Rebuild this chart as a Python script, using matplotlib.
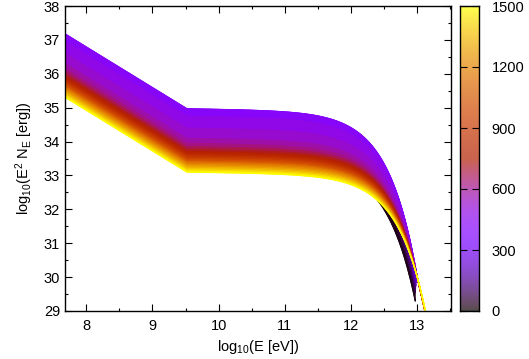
import numpy as np
import matplotlib
matplotlib.use("Agg")
import matplotlib.pyplot as plt
from matplotlib.patches import Polygon
from matplotlib.ticker import MultipleLocator

plt.rcParams['font.family'] = ['Liberation Sans', 'DejaVu Sans']
plt.rcParams['mathtext.default'] = 'regular'

# ---- data ----
# time of each curve (colour value)
times = [0, 50, 100, 150, 200, 250, 300, 350, 400, 450, 500, 550, 600, 650,
         700, 750, 800, 850, 900, 950, 1000, 1050, 1100, 1150, 1200, 1250,
         1300, 1350, 1400, 1450, 1500]
# log10(E^2 N_E) at the spectral break (log10 E = 9.52)
levels = [33.45, 33.70, 33.95, 34.20, 34.45, 34.65, 34.82, 34.93, 34.97,
          34.75, 34.40, 34.10, 33.95, 33.85, 33.77, 33.70, 33.64, 33.59,
          33.55, 33.51, 33.47, 33.43, 33.40, 33.37, 33.33, 33.29, 33.25,
          33.21, 33.17, 33.13, 33.10]
# log10 of the exponential cut-off energy
cutoffs = [12.000, 12.000, 11.990, 11.980, 11.970, 11.965, 11.960, 11.955,
           11.951, 11.971, 12.005, 12.036, 12.053, 12.064, 12.074, 12.082,
           12.089, 12.095, 12.100, 12.106, 12.111, 12.116, 12.120, 12.124,
           12.129, 12.135, 12.140, 12.146, 12.151, 12.157, 12.161]
# log10 of the highest energy of each curve
ends = [12.970, 12.970, 12.975, 12.980, 12.985, 12.990, 12.990, 12.995,
        13.000, 13.010, 13.020, 13.030, 13.040, 13.045, 13.050, 13.060,
        13.070, 13.080, 13.090, 13.100, 13.110, 13.120, 13.130, 13.140,
        13.150, 13.160, 13.170, 13.180, 13.190, 13.200, 13.200]
log_break = 9.52
slope_low = -1.2
slope_high = -0.03
cbar_ticks = [0, 300, 600, 900, 1200, 1500]


def spectrum(x, level, xc):
    seg = np.where(x < log_break, slope_low * (x - log_break),
                   slope_high * (x - log_break))
    return level + seg - np.log10(np.e) * 10.0 ** (x - xc)


W, H = 529, 359
fig = plt.figure(figsize=(W / 100, H / 100), dpi=100)
ax = fig.add_axes([65 / W, 1 - 311 / H, (451 - 65) / W, (311 - 6) / H])
cax = fig.add_axes([460 / W, 1 - 311 / H, 19 / W, (311 - 6) / H])

cmap = plt.get_cmap('gnuplot')
tmax = 1500.0

curves = []
for L, xc, xe in zip(levels, cutoffs, ends):
    x = np.append(np.linspace(7.5, xe, 800), xe)
    curves.append((x, spectrum(x, L, xc)))

x0, y0 = curves[0]
ax.plot(x0, y0, color=cmap(times[0] / tmax), lw=0.8, zorder=2)
for i in range(len(curves) - 1):
    xa, ya = curves[i]
    xb, yb = curves[i + 1]
    pts = np.vstack([np.column_stack([xa, ya]),
                     np.column_stack([xb[::-1], yb[::-1]])])
    col = cmap(0.5 * (times[i] + times[i + 1]) / tmax)
    ax.add_patch(Polygon(pts, closed=True, facecolor=col, edgecolor=col,
                         lw=0.6, zorder=2))
    ax.plot(xb, yb, color=cmap(times[i + 1] / tmax), lw=0.8, zorder=2)

ax.set_xlim(7.68, 13.51)
ax.set_ylim(29, 38)
ax.xaxis.set_major_locator(MultipleLocator(1))
ax.xaxis.set_minor_locator(MultipleLocator(0.5))
ax.yaxis.set_major_locator(MultipleLocator(1))
ax.yaxis.set_minor_locator(MultipleLocator(0.5))
ax.tick_params(which='both', direction='in', top=True, right=True,
               labelsize=10.5, width=0.8, color='black')
ax.tick_params(which='major', length=5)
ax.tick_params(which='minor', length=2.5)
ax.tick_params(axis='x', pad=6)
for s in ax.spines.values():
    s.set_linewidth(1.0)
ax.set_xlabel('log$_{10}$(E [eV])', fontsize=10.5, labelpad=3)
ax.set_ylabel('log$_{10}$(E$^2$ N$_E$ [erg])', fontsize=10.5, labelpad=6)

grad = np.linspace(0, 1, 256).reshape(-1, 1)
cax.imshow(grad, aspect='auto', cmap=cmap, alpha=0.7, origin='lower',
           extent=[0, 1, 0, tmax])
cax.set_xlim(0, 1)
cax.set_ylim(0, tmax)
cax.set_xticks([])
cax.set_yticks(cbar_ticks)
cax.yaxis.tick_right()
cax.tick_params(axis='y', direction='in', left=True, right=True,
                labelsize=10.5, length=5, width=0.8, pad=9)
for s in cax.spines.values():
    s.set_linewidth(1.0)

fig.savefig('out.png', dpi=100)
